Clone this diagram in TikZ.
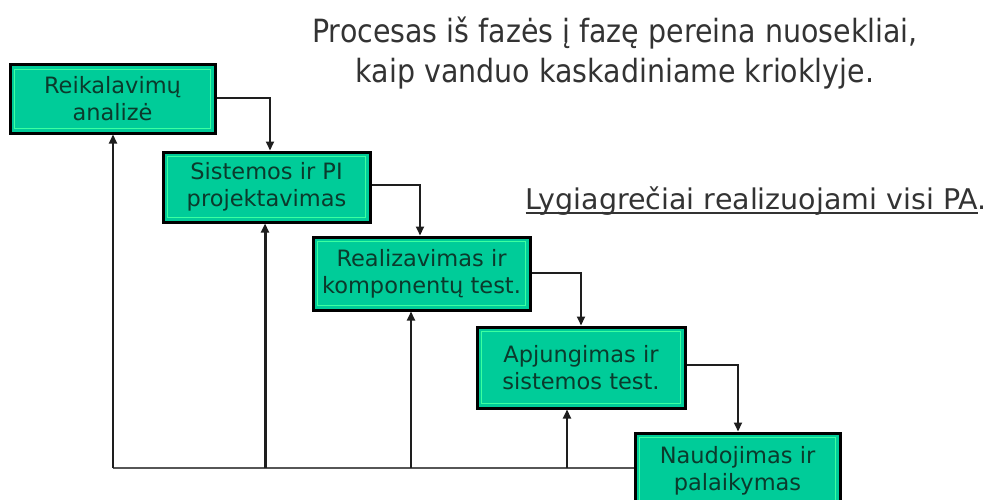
\documentclass[tikz,border=0pt]{standalone}
\usepackage{fontspec}
\usetikzlibrary{arrows.meta}
\newfontfamily\tahomalike{DejaVu Sans}
\newfontfamily\tahomanarrow{DejaVu Sans}[FakeStretch=0.89]
\newcommand\undertext[1]{\setbox0\hbox{#1}\rlap{\copy0}\raisebox{-4.5pt}{\rule{\wd0}{1.8pt}}}
\definecolor{boxfill}{HTML}{00CC99}
\definecolor{boxrim}{HTML}{3CFFA0}
\definecolor{boxtext}{HTML}{0B3A2C}
\definecolor{headtext}{HTML}{333333}
\definecolor{wire}{HTML}{1E1E1E}
\tikzset{
  phase/.style={draw=black, line width=3pt, fill=boxfill, text=boxtext,
    align=center, inner sep=0pt,
    font=\tahomalike\fontsize{22.5}{27}\selectfont,
    path picture={\draw[boxrim, line width=1.2pt]
      ([shift={(4.5pt,4.5pt)}]path picture bounding box.south west) rectangle
      ([shift={(-4.5pt,-4.5pt)}]path picture bounding box.north east);}},
  flow/.style={draw=wire, line width=2pt,
    -{Triangle[length=9pt,width=8pt]}},
  back/.style={draw=wire!75, line width=2pt},
  backup/.style={draw=wire, line width=2pt,
    -{Triangle[length=9pt,width=8pt]}},
  heading/.style={text=headtext, align=center,
    font=\tahomanarrow\fontsize{32}{40}\selectfont}
}
\begin{document}
\begin{tikzpicture}[x=1pt,y=-1pt]
\useasboundingbox (0,0) rectangle (987,500);

% caption text
\node[heading] (title) at (615,53)
  {Procesas iš fazės į fazę pereina nuosekliai,\\kaip vanduo kaskadiniame krioklyje.};
\node[text=headtext, font=\tahomalike\fontsize{28.5}{32}\selectfont, anchor=base west]
  (par) at (522,209) {\undertext{Lygiagrečiai realizuojami visi PA}.};

% waterfall phases
\node[phase, minimum width=205pt, minimum height=68pt] (b1) at (112.5,99)
  {Reikalavimų\\analizė};
\node[phase, minimum width=207pt, minimum height=70pt] (b2) at (266.5,187)
  {Sistemos ir PI\\projektavimas};
\node[phase, minimum width=217pt, minimum height=73pt] (b3) at (421.5,273.5)
  {Realizavimas ir\\komponentų test.};
\node[phase, minimum width=208pt, minimum height=81pt] (b4) at (581,367.5)
  {Apjungimas ir\\sistemos test.};
\node[phase, minimum width=205pt, minimum height=76pt] (b5) at (737.5,471)
  {Naudojimas ir\\palaikymas};

% forward steps
\draw[flow] (b1.east |- 0,98)  -| (270,0 |- b2.north);
\draw[flow] (b2.east |- 0,185) -| (420,0 |- b3.north);
\draw[flow] (b3.east |- 0,273) -| (581,0 |- b4.north);
\draw[flow] (b4.east |- 0,365) -| (738,0 |- b5.north);

% feedback rail along the bottom
\coordinate (r1) at (113,468);
\coordinate (r2) at (265,468);
\coordinate (r3) at (411,468);
\coordinate (r4) at (567,468);
\draw[back] (b5.west |- r1) -- (r1);
\draw[backup] (r1) -- (r1 |- b1.south);
\draw[backup, line width=3pt] (r2) -- (r2 |- b2.south);
\draw[backup] (r3) -- (r3 |- b3.south);
\draw[backup] (r4) -- (r4 |- b4.south);
\end{tikzpicture}
\end{document}
